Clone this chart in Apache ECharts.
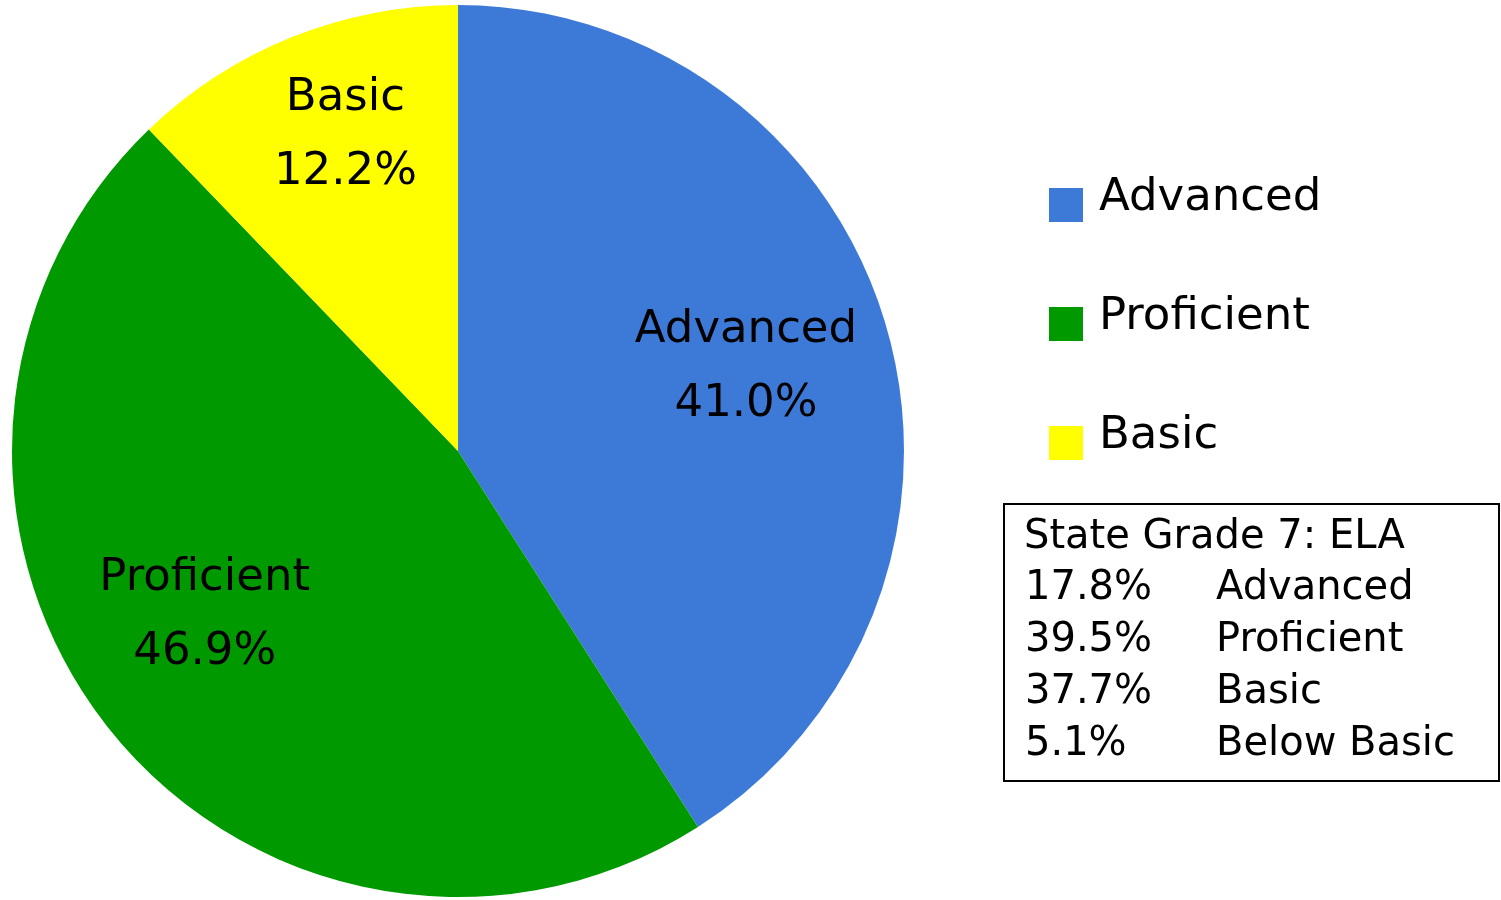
<!DOCTYPE html>
<html><head><meta charset="utf-8">
<script src="https://cdn.jsdelivr.net/npm/echarts@6/dist/echarts.min.js"></script>
<style>html,body{margin:0;padding:0;background:#fff;}#c{width:1501px;height:900px;}</style>
</head><body><div id="c"></div>
<script>
const categories = ['Advanced', 'Proficient', 'Basic'];
const values = [41.0, 46.9, 12.2];
const colors = ['#3d7ad8', '#009900', '#ffff00'];
const stateTitle = 'State Grade 7: ELA';
const statePercents = ['17.8%', '39.5%', '37.7%', '5.1%'];
const stateLevels = ['Advanced', 'Proficient', 'Basic', 'Below Basic'];

const FONT = '"DejaVu Sans", Verdana, sans-serif';
const CX = 458, CY = 451, R = 446;
// label placement style: radial distance and angular nudge per slice
const labelRadius = [300, 302, 335];
const labelNudge = [0, 5.2, 2.3];

const total = values.reduce((a, b) => a + b, 0);
const midAngles = [];
let acc = 0;
values.forEach(v => { midAngles.push((acc + v / 2) / total * 360); acc += v; });

const chart = echarts.init(document.getElementById('c'));

const graphic = [];
// legend (built from categories and colors)
categories.forEach((c, i) => {
  graphic.push({type: 'rect', shape: {x: 1049, y: 188 + i * 119, width: 34, height: 34},
    style: {fill: colors[i]}, silent: true});
  graphic.push({type: 'text', x: 1099, y: 198 + i * 119,
    style: {text: c, font: '45px ' + FONT, fill: '#000', verticalAlign: 'middle'}});
});
// state box
graphic.push({type: 'rect', shape: {x: 1004, y: 504, width: 495, height: 277},
  style: {fill: '#fff', stroke: '#000', lineWidth: 2}, silent: true});
graphic.push({type: 'text', x: 1024, y: 538, style: {text: stateTitle, font: '40px ' + FONT, fill: '#000', verticalAlign: 'middle'}});
statePercents.forEach((p, i) => {
  const y = 589 + i * 52;
  graphic.push({type: 'text', x: 1025, y: y, style: {text: p, font: '40px ' + FONT, fill: '#000', verticalAlign: 'middle'}});
  graphic.push({type: 'text', x: 1216, y: y, style: {text: stateLevels[i], font: '40px ' + FONT, fill: '#000', verticalAlign: 'middle'}});
});

chart.setOption({
  animation: false,
  backgroundColor: '#fff',
  color: colors,
  graphic: graphic,
  series: [{
    type: 'pie',
    center: [CX, CY], radius: [0, R],
    startAngle: 90, clockwise: true,
    emphasis: {disabled: true},
    itemStyle: {borderWidth: 0},
    data: categories.map((c, i) => ({name: c, value: values[i]})),
    label: {
      show: true, position: 'inside',
      formatter: p => p.name + '\n' + p.value.toFixed(1) + '%',
      fontSize: 45, fontFamily: FONT, color: '#000', lineHeight: 74,
      align: 'center', verticalAlign: 'middle'
    },
    labelLine: {show: false},
    labelLayout: function (p) {
      const i = p.dataIndex;
      const a = (midAngles[i] + labelNudge[i]) * Math.PI / 180;
      return {x: CX + labelRadius[i] * Math.sin(a), y: CY - labelRadius[i] * Math.cos(a), align: 'center', verticalAlign: 'middle'};
    }
  }]
});
</script></body></html>
